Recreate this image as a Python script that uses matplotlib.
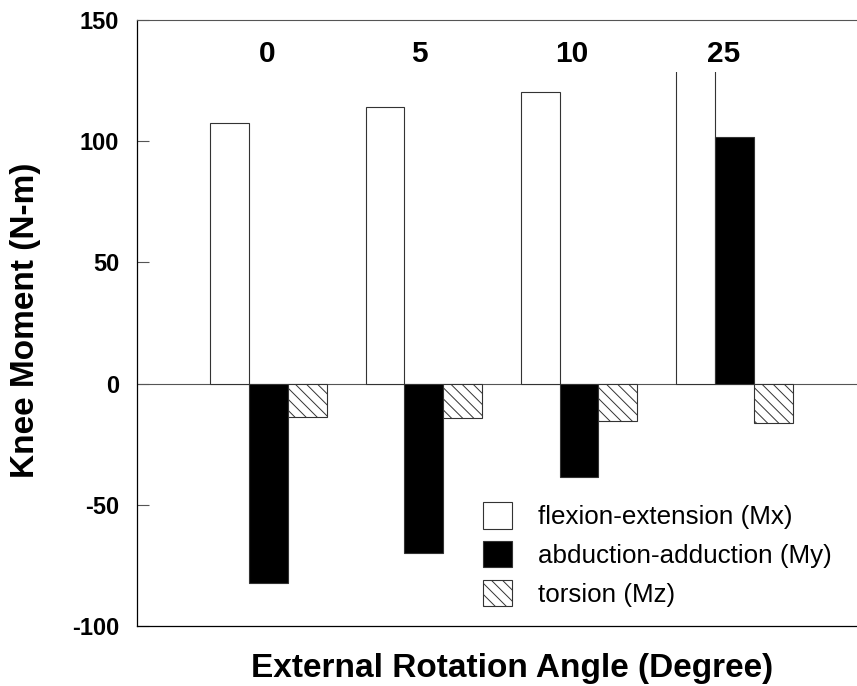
import matplotlib
matplotlib.use("Agg")
import matplotlib.pyplot as plt
import matplotlib.patches as mpatches
import numpy as np

plt.rcParams['font.family'] = ['Liberation Sans', 'DejaVu Sans']
plt.rcParams['hatch.linewidth'] = 0.7
plt.rcParams['axes.unicode_minus'] = False

# rotation angles (degrees) and knee moments (N-m)
angles = ['0', '5', '10', '25']
mx = [107.6, 114.0, 120.4, 160.0]   # flexion-extension, last one runs off the scale
my = [-82.4, -70.0, -38.7, 101.9]   # abduction-adduction
mz = [-13.6, -14.1, -15.3, -16.4]   # torsion
series_names = ['flexion-extension (Mx)', 'abduction-adduction (My)', 'torsion (Mz)']

x = np.arange(len(angles))
w = 0.25

fig = plt.figure(figsize=(8.57, 6.86), dpi=100)
ax = fig.add_axes([0.1602, 0.0875, 0.8398, 0.8833])

edge = '#333333'
b1 = ax.bar(x - w, mx, w, color='white', edgecolor=edge, linewidth=0.8, zorder=2)
b2 = ax.bar(x, my, w, color='black', edgecolor=edge, linewidth=0.8, zorder=2)
b3 = ax.bar(x + w, mz, w, color='white', edgecolor=edge, linewidth=0.8,
            hatch='\\\\\\', zorder=2)

# the off-scale bar is cut below the group label
clip = mpatches.Rectangle((x[-1] - 2 * w, -100), 2 * w, 228.7, transform=ax.transData)
b1[-1].set_clip_path(clip)

ax.axhline(0, color='#555555', linewidth=0.8, zorder=1)

for i, a in enumerate(angles):
    ax.text(i * 0.98 - 0.01, 132.8, a, ha='center', va='baseline',
            fontsize=21.5, fontweight='bold')

ax.set_xlim(-0.845, 3.79)
ax.set_ylim(-100, 150)
ax.set_yticks([-100, -50, 0, 50, 100, 150])
ax.set_xticks([])
ax.tick_params(axis='y', direction='in', length=8.6, width=0.8, color='#555555',
               pad=13, labelsize=17)
for lab in ax.get_yticklabels():
    lab.set_fontweight('bold')

ax.spines['right'].set_visible(False)
ax.spines['top'].set_color('#555555')
ax.spines['top'].set_linewidth(0.8)
ax.spines['left'].set_linewidth(0.9)
ax.spines['bottom'].set_linewidth(0.9)

leg = ax.legend([b1[0], b2[0], b3[0]], series_names, loc='upper left',
                bbox_to_anchor=(0.48, 0.2045), frameon=False, fontsize=18.7,
                handlelength=1.12, handleheight=1.2, handletextpad=1.0,
                labelspacing=0.45, borderpad=0, borderaxespad=0)

fig.text(0.030, 0.5335, 'Knee Moment (N-m)', rotation=90, ha='center', va='center',
         fontsize=24, fontweight='bold')
fig.text(0.597, 0.0136, 'External Rotation Angle (Degree)', ha='center', va='baseline',
         fontsize=24, fontweight='bold')

plt.savefig('out.png', dpi=100)
